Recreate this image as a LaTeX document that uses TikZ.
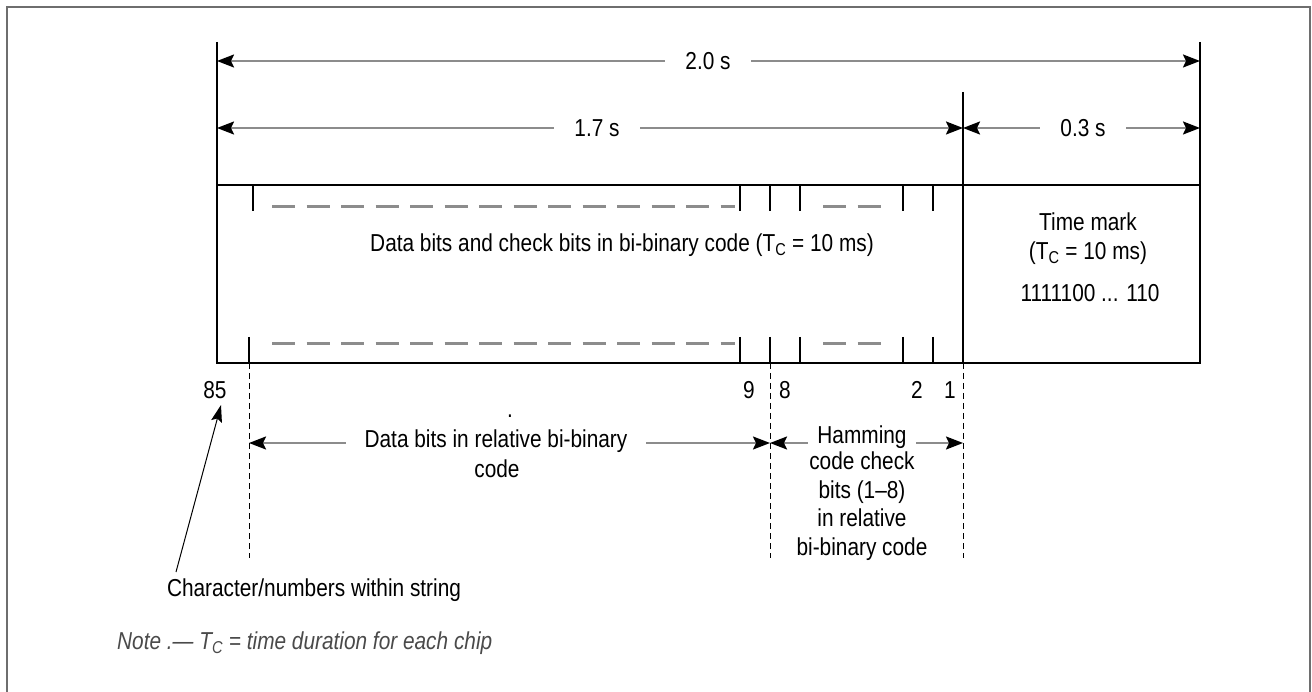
\documentclass[tikz,border=0pt]{standalone}
\usepackage{fontspec}
\setmainfont{Liberation Sans}[FakeStretch=0.85]
\usetikzlibrary{arrows.meta}
\definecolor{dimgray}{HTML}{8C8C8C}
\definecolor{framegray}{HTML}{6E6E6E}
\definecolor{notegray}{HTML}{4A4A4A}
\begin{document}
\begin{tikzpicture}[x=1pt,y=-1pt,
  every node/.style={font=\fontsize{24.5}{28.5}\selectfont, inner sep=0pt},
  boxline/.style={line width=1.6pt, black},
  tickline/.style={line width=1.4pt, black},
  tipA/.tip={Stealth[length=17pt,width=13pt,inset=3pt,black]},
  dimline/.style={line width=2pt, dimgray, tipA-tipA},
  gdash/.style={line width=3pt, dimgray, dash pattern=on 23pt off 11.5pt},
  vdash/.style={line width=1pt, black, dash pattern=on 6pt off 4pt},
  pointer/.style={line width=1pt, black, -{Stealth[length=17pt,width=11pt,inset=3pt,black]}},
  gaplabel/.style={fill=white, inner xsep=20pt, inner ysep=5pt},
  num/.style={}
]
\useasboundingbox (0,0) rectangle (1312,692);
% outer frame (open at the bottom)
\draw[framegray, line width=2.5pt] (7,692) -- (7,7) -- (1310,7) -- (1310,692);

% named coordinates
\coordinate (topL) at (217,42);
\coordinate (topR) at (1200,42);
\coordinate (divT) at (963,92);
\coordinate (boxTL) at (217,185);
\coordinate (boxBR) at (1200,363);
\coordinate (boxTR) at (1200,185);
\coordinate (divB) at (963,363);
\coordinate (a20L) at (217,61);  \coordinate (a20R) at (1200,61);
\coordinate (a17L) at (217,128); \coordinate (a17R) at (963,128);
\coordinate (a03L) at (963,128); \coordinate (a03R) at (1200,128);
\coordinate (dbL) at (249,443);  \coordinate (dbR) at (770,443);
\coordinate (hmL) at (770,443);  \coordinate (hmR) at (963,443);
\coordinate (v1T) at (249,363); \coordinate (v1B) at (249,558);
\coordinate (v2T) at (770,363); \coordinate (v2B) at (770,558);
\coordinate (v3T) at (963,363); \coordinate (v3B) at (963,558);
\coordinate (ptail) at (176,572); \coordinate (ptip) at (221,405);

% frame box and boundary lines
\draw[boxline] (boxTL) rectangle (boxBR);
\draw[boxline] (topL) -- (boxTL);
\draw[boxline] (topR) -- (boxTR);
\draw[boxline] (divT) -- (divB);

% chip ticks
\foreach \x in {253,740,770,800,903,933} \draw[tickline] (\x,185) -- (\x,211);
\foreach \x in {249,740,770,800,903,933} \draw[tickline] (\x,337) -- (\x,363);

% grey dashes inside the box
\draw[gdash] (272,207) -- (735,207);
\draw[gdash] (823,207) -- (882,207);
\draw[gdash] (272,344) -- (735,344);
\draw[gdash] (823,344) -- (882,344);

% dashed verticals below
\draw[vdash] (v1T) -- (v1B);
\draw[vdash] (v2T) -- (v2B);
\draw[vdash] (v3T) -- (v3B);

% dimension arrows
\draw[dimline] (a20L) -- (a20R);
\draw[dimline] (a17L) -- (a17R);
\draw[dimline] (a03L) -- (a03R);
\draw[dimline] (dbL) -- (dbR);
\draw[dimline] (hmL) -- (hmR);

% dimension labels
\node[gaplabel] (l20) at (708,61) {2.0 s};
\node[gaplabel] (l17) at (597,128) {1.7 s};
\node[gaplabel] (l03) at (1083,128) {0.3 s};

% box texts
\node (main) at (622,245) {Data bits and check bits in bi-binary code (T\textsubscript{C} = 10 ms)};
\node (tm1) at (1088,222) {Time mark};
\node (tm2) at (1088,253) {(T\textsubscript{C} = 10 ms)};
\node (tm3) at (1090,293) {1111100 ... 110};

% numbers
\node[num] (n85) at (215,390) {85};
\node[num] (n9) at (749,390) {9};
\node[num] (n8) at (785,390) {8};
\node[num] (n2) at (917,390) {2};
\node[num] (n1) at (950,390) {1};

% lower labels
\node[fill=white, inner xsep=19pt, inner ysep=4pt] (db1) at (496,441) {Data bits in relative bi-binary};
\node (db2) at (497,469) {code};
\node (dot) at (510,416) {.};
\node[fill=white, inner xsep=9pt, inner ysep=3pt] (hm1) at (862,437) {Hamming};
\node[align=center, anchor=north] (hm2) at (862,452) {code check\\bits (1–8)\\in relative\\bi-binary code};

% pointer to first character
\node (chr) at (314,590) {Character/numbers within string};
\draw[pointer] (ptail) -- (ptip);

% note
\node[anchor=west, text=notegray, font=\fontsize{24.5}{28.5}\selectfont\itshape] (note) at (117,643) {Note .— T\textsubscript{C} = time duration for each chip};
\end{tikzpicture}
\end{document}
